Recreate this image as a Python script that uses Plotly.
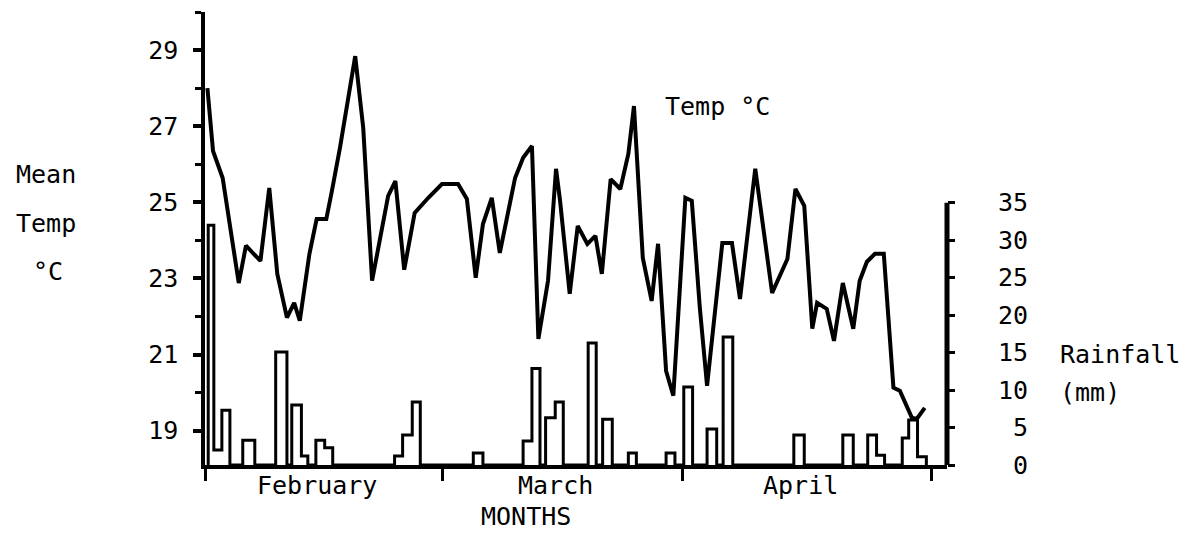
import plotly.graph_objects as go

# Daily mean temperature (°C), x in days from 1 February
temp_day = [0.3, 1.0, 2.2, 3.4, 4.2, 5.1, 6.9, 8.0, 9.0, 10.2, 11.1, 11.8, 13.0, 13.9,
            15.1, 15.8, 16.8, 18.7, 19.7, 20.8, 22.8, 23.7, 24.8, 26.1, 27.8, 29.5,
            31.5, 32.6, 33.7, 34.6, 35.7, 36.7, 38.6, 39.6, 40.7, 41.5, 42.7, 43.7,
            44.2, 45.4, 46.4, 47.6, 48.6, 49.4, 50.5, 51.7, 52.7, 53.4, 54.5, 55.6,
            56.4, 57.4, 58.3, 59.8, 60.6, 61.6, 62.5, 64.4, 65.6, 66.6, 68.5, 70.6,
            72.5, 73.5, 74.6, 75.6, 76.2, 77.4, 78.3, 79.4, 80.7, 81.5, 82.4, 83.4,
            84.5, 85.7, 86.5, 88.0, 88.6, 89.6]
temp_c = [28.0, 26.35, 25.64, 23.91, 22.88, 23.86, 23.46, 25.38, 23.12, 21.97, 22.36,
          21.89, 23.65, 24.56, 24.56, 25.3, 26.43, 28.84, 26.95, 22.94, 25.17, 25.56,
          23.23, 24.72, 25.12, 25.48, 25.48, 25.09, 23.02, 24.43, 25.12, 23.67, 25.64,
          26.17, 26.48, 21.41, 22.94, 25.88, 25.04, 22.6, 24.38, 23.91, 24.12, 23.12,
          25.61, 25.35, 26.27, 27.53, 23.54, 22.41, 23.91, 20.57, 19.92, 25.12, 25.04,
          22.23, 20.18, 23.93, 23.93, 22.46, 25.88, 22.62, 23.51, 25.35, 24.91, 21.68,
          22.36, 22.2, 21.36, 22.88, 21.68, 22.94, 23.44, 23.65, 23.65, 20.13, 20.05,
          19.34, 19.31, 19.6]

# Rainfall events (mm): start / end day of each step
rain_start = [0.4, 1.1, 2.1, 4.7, 8.8, 10.8, 12.0, 13.8, 14.9, 23.6, 24.6, 25.8, 33.4,
              39.6, 40.7, 42.4, 43.6, 47.7, 49.5, 52.7, 57.4, 59.6, 62.5, 64.5, 73.3,
              79.4, 82.5, 83.6, 86.8, 87.6, 88.7]
rain_end = [1.1, 2.1, 3.1, 6.2, 10.2, 12.0, 12.8, 14.9, 15.9, 24.6, 25.8, 26.8, 34.6,
            40.7, 41.7, 43.6, 44.6, 48.7, 50.7, 53.7, 58.5, 60.7, 63.7, 65.7, 74.6,
            80.7, 83.6, 84.6, 87.6, 88.7, 89.8]
rain_mm = [32.0, 2.0, 7.3, 3.3, 15.1, 8.0, 1.2, 3.3, 2.3, 1.2, 4.0, 8.4, 1.6,
           3.2, 12.9, 6.3, 8.4, 16.3, 6.1, 1.6, 1.6, 10.4, 4.8, 17.1, 4.0,
           4.0, 4.0, 1.3, 3.6, 6.0, 1.1]

month_names = ["February", "March", "April"]
month_edges = [0, 29.6, 59.5, 90.4]
temp_ticks = [19, 21, 23, 25, 27, 29]
temp_minor = [20, 22, 24, 26, 28, 30]
rain_ticks = [0, 5, 10, 15, 20, 25, 30, 35]

FONT = "DejaVu Sans Mono"
W, H = 1198, 533
L, R, T, B = 205, 251, 12, 68
PW, PH = W - L - R, H - T - B


def px_x(p):
    return (p - L) / PW


def px_y(p):
    return (H - B - p) / PH


# Build the rainfall outline as a stepped line
rx, ry = [], []
n = len(rain_mm)
for i, (s, e, v) in enumerate(zip(rain_start, rain_end, rain_mm)):
    joined_prev = i > 0 and abs(rain_end[i - 1] - s) < 0.05
    joined_next = i < n - 1 and abs(rain_start[i + 1] - e) < 0.05
    if not joined_prev:
        rx.append(s); ry.append(0)
    rx += [s, e]; ry += [v, v]
    if not joined_next:
        rx.append(e); ry.append(0)

fig = go.Figure()
fig.add_trace(go.Scatter(x=rx, y=ry, mode="lines", yaxis="y",
                         line=dict(color="black", width=3), hoverinfo="skip"))
fig.add_trace(go.Scatter(x=temp_day, y=temp_c, mode="lines", yaxis="y2",
                         line=dict(color="black", width=4), hoverinfo="skip"))

annotations = []
# month names under the axis
for name, a, b in zip(month_names, month_edges[:-1], month_edges[1:]):
    annotations.append(dict(x=(a + b) / 2, xref="x", y=px_y(485), yref="paper",
                            text=name, showarrow=False, xshift=-7,
                            xanchor="center", yanchor="middle"))
annotations.append(dict(x=px_x(526), xref="paper", y=px_y(516), yref="paper",
                        text="MONTHS", showarrow=False, xanchor="center", yanchor="middle"))
# left axis title
for txt, yy, xx in [("Mean", 174, 46), ("Temp", 224, 46), ("°C", 271, 48)]:
    annotations.append(dict(x=px_x(xx), xref="paper", y=px_y(yy), yref="paper",
                            text=txt, showarrow=False, xanchor="center", yanchor="middle"))
# right axis title
for txt, yy in [("Rainfall", 354), ("(mm)", 392)]:
    annotations.append(dict(x=px_x(1058), xref="paper", y=px_y(yy), yref="paper",
                            text=txt, showarrow=False, xanchor="left", yanchor="middle"))
# right axis tick labels, right aligned
for t in rain_ticks:
    annotations.append(dict(x=px_x(1030), xref="paper", y=t, yref="y",
                            text=str(t), showarrow=False, xanchor="right", yanchor="middle"))
# series label
annotations.append(dict(x=px_x(663), xref="paper", y=27.53, yref="y2",
                        text="Temp °C", showarrow=False, xanchor="left", yanchor="middle"))

fig.update_layout(
    width=W, height=H,
    margin=dict(l=L, r=R, t=T, b=B, pad=0),
    paper_bgcolor="white", plot_bgcolor="white",
    showlegend=False,
    font=dict(family=FONT, size=25, color="black"),
    xaxis=dict(range=[0, PW / 8.033], showgrid=False, zeroline=False,
               showline=True, linewidth=3.5, linecolor="black",
               tickvals=month_edges, ticks="outside", ticklen=12, tickwidth=2.5,
               tickcolor="black", showticklabels=False, fixedrange=True),
    yaxis=dict(range=[0, PH / 7.49], side="right", showgrid=False, zeroline=False,
               showline=False, tickvals=rain_ticks, ticks="outside", ticklen=7,
               tickwidth=3, tickcolor="black", showticklabels=False, fixedrange=True),
    yaxis2=dict(range=[18.1, 30.0], side="left", overlaying="y", anchor="x",
                showgrid=False, zeroline=False, showline=True, linewidth=3.5,
                linecolor="black", tickvals=temp_ticks, ticks="outside", ticklen=8,
                tickwidth=4, tickcolor="black", ticklabelstandoff=10,
                minor=dict(tickvals=temp_minor, ticks="outside", ticklen=6,
                           tickwidth=2.5, tickcolor="black"),
                tickfont=dict(family=FONT, size=25, color="black"), fixedrange=True),
    annotations=annotations,
    shapes=[dict(type="line", xref="paper", x0=1, x1=1, yref="y", y0=0, y1=35,
                 line=dict(color="black", width=5), layer="above")],
)

fig.write_html("out.html", config=dict(displayModeBar=False))
